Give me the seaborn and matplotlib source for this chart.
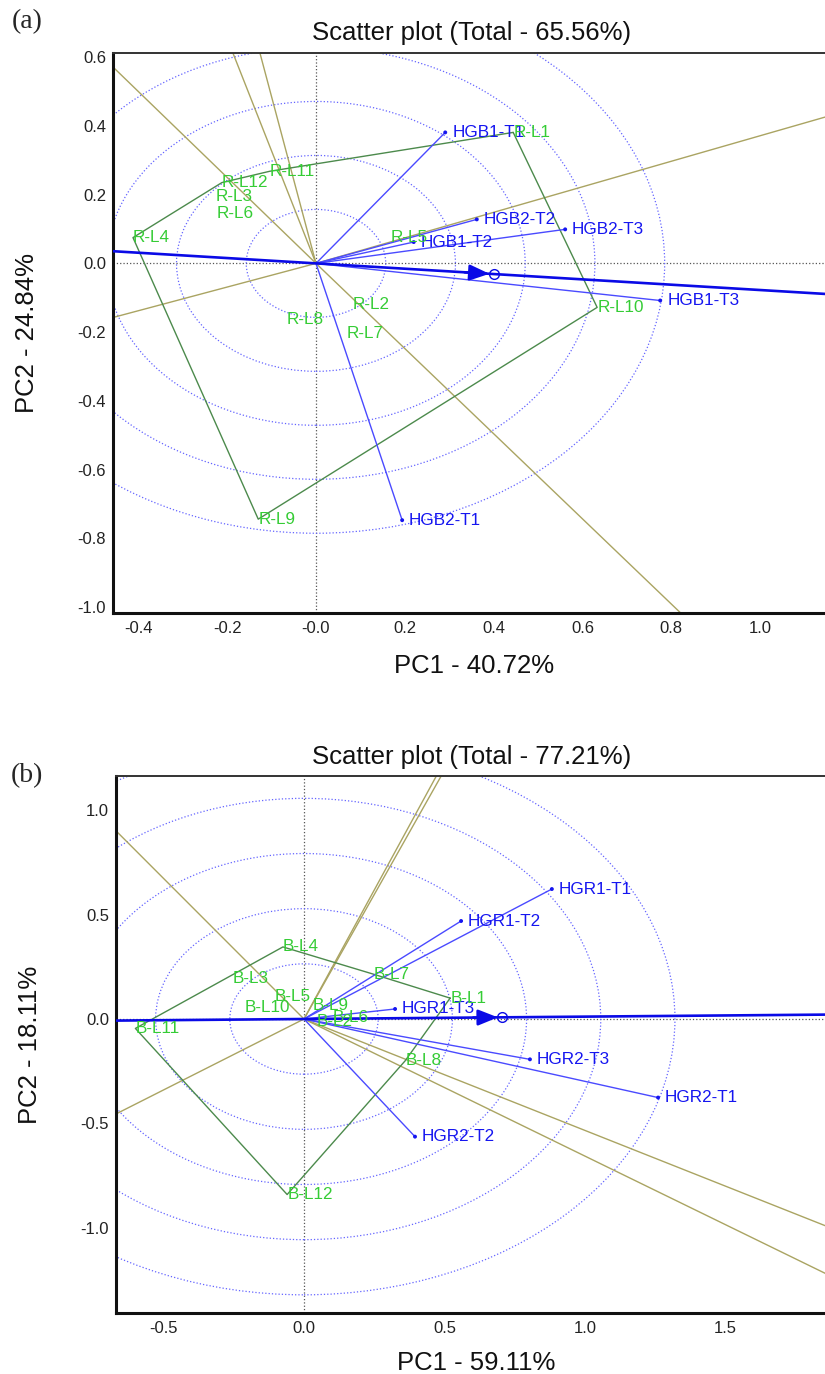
import numpy as np
import pandas as pd
import matplotlib
matplotlib.use("Agg")
import matplotlib.pyplot as plt
import seaborn as sns
from matplotlib.patches import Circle

# ---------------- Panel (a) data ----------------
a_title = "Scatter plot (Total - 65.56%)"
a_xlabel = "PC1 - 40.72%"
a_ylabel = "PC2 - 24.84%"
a_env_names = ["HGB1-T1", "HGB2-T2", "HGB2-T3", "HGB1-T2", "HGB1-T3", "HGB2-T1"]
a_env_x = [0.291, 0.362, 0.561, 0.220, 0.775, 0.194]
a_env_y = [0.381, 0.128, 0.099, 0.062, -0.108, -0.747]
a_gen_names = ["R-L1", "R-L2", "R-L3", "R-L4", "R-L5", "R-L6",
               "R-L7", "R-L8", "R-L9", "R-L10", "R-L11", "R-L12"]
a_gen_x = [0.444, 0.083, -0.227, -0.412, 0.167, -0.223,
           0.070, -0.065, -0.130, 0.633, -0.104, -0.212]
a_gen_y = [0.381, -0.120, 0.195, 0.075, 0.075, 0.145,
           -0.203, -0.163, -0.744, -0.128, 0.268, 0.235]
a_hull = ["R-L1", "R-L10", "R-L9", "R-L4", "R-L12", "R-L11"]
a_mean_env = (0.400, -0.031)
a_circle_radii = [0.157, 0.314, 0.471, 0.628, 0.785]
a_xlim = (-0.457, 1.146)
a_ylim = (-1.017, 0.612)
a_xticks = [-0.4, -0.2, 0.0, 0.2, 0.4, 0.6, 0.8, 1.0]
a_xticklabels = ["-0.4", "-0.2", "-0.0", "0.2", "0.4", "0.6", "0.8", "1.0"]
a_yticks = [0.6, 0.4, 0.2, 0.0, -0.2, -0.4, -0.6, -0.8, -1.0]
a_yticklabels = ["0.6", "0.4", "0.2", "0.0", "-0.2", "-0.4", "-0.6", "-0.8", "-1.0"]

# ---------------- Panel (b) data ----------------
b_title = "Scatter plot (Total - 77.21%)"
b_xlabel = "PC1 - 59.11%"
b_ylabel = "PC2 - 18.11%"
b_env_names = ["HGR1-T1", "HGR1-T2", "HGR1-T3", "HGR2-T3", "HGR2-T1", "HGR2-T2"]
b_env_x = [0.882, 0.559, 0.324, 0.804, 1.260, 0.395]
b_env_y = [0.622, 0.469, 0.048, -0.193, -0.376, -0.563]
b_gen_names = ["B-L1", "B-L2", "B-L3", "B-L4", "B-L5", "B-L6",
               "B-L7", "B-L8", "B-L9", "B-L10", "B-L11", "B-L12"]
b_gen_x = [0.520, 0.046, -0.253, -0.075, -0.103, 0.103,
           0.246, 0.360, 0.032, -0.213, -0.600, -0.060]
b_gen_y = [0.100, -0.012, 0.196, 0.345, 0.110, 0.005,
           0.215, -0.200, 0.067, 0.057, -0.045, -0.840]
b_hull = ["B-L1", "B-L7", "B-L4", "B-L11", "B-L12", "B-L8"]
b_mean_env = (0.705, 0.008)
b_circle_radii = [0.264, 0.528, 0.792, 1.056, 1.320]
b_xlim = (-0.669, 1.854)
b_ylim = (-1.407, 1.163)
b_xticks = [-0.5, 0.0, 0.5, 1.0, 1.5]
b_xticklabels = ["-0.5", "0.0", "0.5", "1.0", "1.5"]
b_yticks = [1.0, 0.5, 0.0, -0.5, -1.0]
b_yticklabels = ["1.0", "0.5", "0.0", "-0.5", "-1.0"]

# ---------------- style ----------------
sns.set_theme(style="white")
plt.rcParams["font.family"] = ["Liberation Sans", "DejaVu Sans"]

ENV_LINE = "#4a4aff"
ENV_TEXT = "#1515f0"
ATC_COL = "#0a0ae6"
CIRC_COL = "#6464ff"
HULL_COL = "#4c8a4c"
GEN_TEXT = "#35cc35"
RAY_COL = "#aaa462"
ZERO_COL = "#555555"
LABEL_FS = 12.3
TICK_FS = 12.0
BIG_FS = 18.5

fig = plt.figure(figsize=(8.25, 13.74), dpi=100)
ax_a = fig.add_axes([113 / 825, 1 - 613 / 1374, 1 - 113 / 825, (613 - 53) / 1374])
ax_b = fig.add_axes([116 / 825, 1 - 1313 / 1374, 1 - 116 / 825, (1313 - 776) / 1374])


def draw_panel(ax, env_names, env_x, env_y, gen_names, gen_x, gen_y, hull,
               mean_env, radii, xlim, ylim, xticks, xtl, yticks, ytl):
    ax.set_xlim(*xlim)
    ax.set_ylim(*ylim)

    # zero reference lines
    ax.axhline(0, color=ZERO_COL, ls=":", lw=0.9, zorder=1)
    ax.axvline(0, color=ZERO_COL, ls=":", lw=0.9, zorder=1)

    # concentric circles
    for r in radii:
        ax.add_patch(Circle((0, 0), r, fill=False, ec=CIRC_COL, ls=":", lw=0.9, zorder=1))

    gen = pd.DataFrame({"name": gen_names, "x": gen_x, "y": gen_y}).set_index("name")
    env = pd.DataFrame({"name": env_names, "x": env_x, "y": env_y})

    # polygon (which-won-where)
    hull_df = gen.loc[hull + [hull[0]]].reset_index()
    sns.lineplot(data=hull_df, x="x", y="y", sort=False, estimator=None,
                 color=HULL_COL, lw=1.0, ax=ax, zorder=3)

    # perpendicular rays from the origin to each polygon side
    pts = hull_df[["x", "y"]].to_numpy()
    for p, q in zip(pts[:-1], pts[1:]):
        d = q - p
        n = np.array([-d[1], d[0]])
        if np.dot(n, p) < 0:
            n = -n
        n = n / np.linalg.norm(n)
        ax.plot([0, 10 * n[0]], [0, 10 * n[1]], color=RAY_COL, lw=1.0, zorder=2)

    # average environment axis
    mx, my = mean_env
    ax.axline((0, 0), (mx, my), color=ATC_COL, lw=1.9, zorder=4)
    slope = my / mx
    dx = 0.065 * (xlim[1] - xlim[0]) / 1.6
    ax.annotate("", xy=(mx, my), xytext=(mx - dx, my - slope * dx),
                arrowprops=dict(arrowstyle="-|>,head_length=1.0,head_width=0.4",
                                color=ATC_COL, lw=1.9, shrinkA=0, shrinkB=3),
                zorder=5)
    ax.plot([mx], [my], marker="o", ms=7, mfc="none", mec=ATC_COL, mew=1.0, zorder=5)

    # environment vectors
    for _, row in env.iterrows():
        ax.plot([0, row.x], [0, row.y], color=ENV_LINE, lw=1.0, zorder=3)
    sns.scatterplot(data=env, x="x", y="y", s=8, color=ENV_TEXT, edgecolor="none",
                    ax=ax, zorder=6, legend=False)
    for _, row in env.iterrows():
        ax.annotate(row["name"], (row.x, row.y), xytext=(5, 0), textcoords="offset points",
                    ha="left", va="center", color=ENV_TEXT, fontsize=LABEL_FS, zorder=7)

    # genotype labels
    for name, row in gen.iterrows():
        ax.text(row.x, row.y, name, ha="left", va="center", color=GEN_TEXT,
                fontsize=LABEL_FS, zorder=7)

    # axes styling
    ax.set_xticks(xticks)
    ax.set_xticklabels(xtl)
    ax.set_yticks(yticks)
    ax.set_yticklabels(ytl)
    ax.tick_params(axis="both", length=0, labelsize=TICK_FS, colors="#222222")
    ax.tick_params(axis="x", pad=6)
    ax.tick_params(axis="y", pad=5)
    ax.set_xlabel("")
    ax.set_ylabel("")
    for s in ["left", "bottom"]:
        ax.spines[s].set_color("#111111")
        ax.spines[s].set_linewidth(2.2)
    ax.spines["top"].set_color("#333333")
    ax.spines["top"].set_linewidth(1.4)
    ax.spines["right"].set_visible(False)
    ax.grid(False)
    ax.set_facecolor("white")


draw_panel(ax_a, a_env_names, a_env_x, a_env_y, a_gen_names, a_gen_x, a_gen_y, a_hull,
           a_mean_env, a_circle_radii, a_xlim, a_ylim, a_xticks, a_xticklabels,
           a_yticks, a_yticklabels)
draw_panel(ax_b, b_env_names, b_env_x, b_env_y, b_gen_names, b_gen_x, b_gen_y, b_hull,
           b_mean_env, b_circle_radii, b_xlim, b_ylim, b_xticks, b_xticklabels,
           b_yticks, b_yticklabels)

H = 1374.0
W = 825.0
def ft(x, y, s, **kw):
    fig.text(x / W, 1 - y / H, s, **kw)

ft(472, 33, a_title, ha="center", va="center", fontsize=BIG_FS, color="#111111")
ft(474, 666, a_xlabel, ha="center", va="center", fontsize=BIG_FS, color="#111111")
ft(27, 333, a_ylabel, ha="center", va="center", fontsize=BIG_FS, rotation=90, color="#111111")
ft(472, 757, b_title, ha="center", va="center", fontsize=BIG_FS, color="#111111")
ft(476, 1363, b_xlabel, ha="center", va="center", fontsize=BIG_FS, color="#111111")
ft(30, 1045, b_ylabel, ha="center", va="center", fontsize=BIG_FS, rotation=90, color="#111111")
ft(27, 22, "(a)", ha="center", va="center", fontsize=20, family="Liberation Serif")
ft(27, 776, "(b)", ha="center", va="center", fontsize=20, family="Liberation Serif")

fig.savefig("out.png", dpi=100, facecolor="white")
